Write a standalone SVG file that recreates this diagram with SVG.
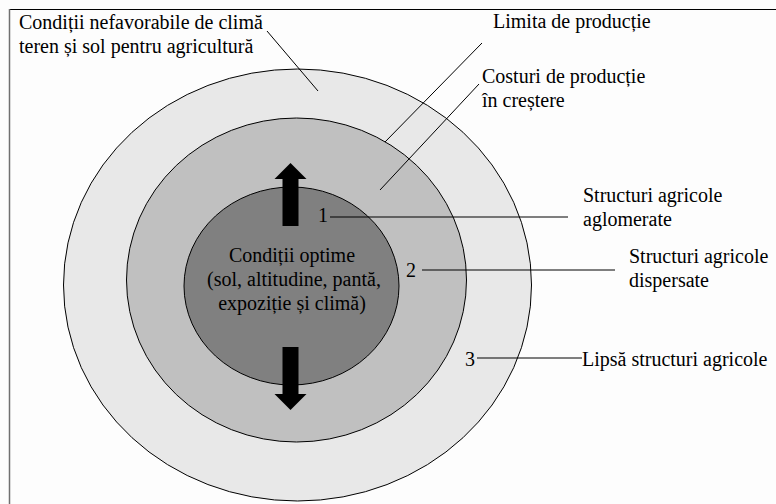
<svg xmlns="http://www.w3.org/2000/svg" width="776" height="504" viewBox="0 0 776 504">
  <style>
    text { font-family: 'Liberation Serif', Tinos, 'Times New Roman', 'DejaVu Serif', serif; font-size: 20px; fill: #000; }
    .mid { text-anchor: middle; }
    .ring { stroke: #000; stroke-width: 1; }
    .lead { stroke: #000; stroke-width: 1; fill: none; }
  </style>
  <defs>
    <!-- thick block arrow, drawn pointing up from the origin tip -->
    <path id="blockArrow" d="M0,0 L16,16 L8,16 L8,63 L-8,63 L-8,16 L-16,16 Z" fill="#000"/>
  </defs>

  <!-- page background and frame -->
  <rect x="0" y="0" width="776" height="504" fill="#fdfdfd"/>
  <line x1="9" y1="9.5" x2="776" y2="9.5" stroke="#000" stroke-width="1"/>
  <line x1="9.5" y1="9" x2="9.5" y2="504" stroke="#707070" stroke-width="1.5"/>

  <!-- concentric zones -->
  <g id="zone-outer">
    <ellipse class="ring" cx="297.5" cy="285" rx="234" ry="216" fill="#e8e8e8"/>
  </g>
  <g id="zone-middle">
    <ellipse class="ring" cx="296.5" cy="280" rx="170" ry="162" fill="#c0c0c0"/>
  </g>
  <g id="zone-inner">
    <ellipse class="ring" cx="291.5" cy="286" rx="107.5" ry="99" fill="#808080"/>
    <text class="mid" x="292" y="262" font-family="Liberation Serif">Condiții optime</text>
    <text class="mid" x="294" y="286" font-family="Liberation Serif">(sol, altitudine, pantă,</text>
    <text class="mid" x="292" y="310" font-family="Liberation Serif">expoziție și climă)</text>
  </g>

  <!-- expansion arrows -->
  <g id="arrows">
    <use href="#blockArrow" transform="translate(290.5,163)"/>
    <use href="#blockArrow" transform="translate(290.5,410) scale(1,-1)"/>
  </g>

  <!-- leader lines -->
  <g id="connectors">
    <line class="lead" x1="267" y1="31" x2="318" y2="91"/>
    <line class="lead" x1="482" y1="43" x2="385" y2="142"/>
    <line class="lead" x1="479" y1="84" x2="380" y2="190"/>
    <line class="lead" x1="330" y1="217" x2="568" y2="217"/>
    <line class="lead" x1="422" y1="270" x2="615" y2="270"/>
    <line class="lead" x1="477" y1="358" x2="582" y2="358"/>
  </g>

  <!-- labels -->
  <g id="label-unfavourable">
    <text x="19" y="29">Condiții nefavorabile de climă</text>
    <text x="19" y="53">teren și sol pentru agricultură</text>
  </g>
  <g id="label-limit">
    <text x="493" y="28">Limita de producție</text>
  </g>
  <g id="label-costs">
    <text x="482" y="83">Costuri de producție</text>
    <text x="482" y="107">în creștere</text>
  </g>
  <g id="label-1">
    <text x="318" y="222">1</text>
    <text x="583" y="202">Structuri agricole</text>
    <text x="583" y="226">aglomerate</text>
  </g>
  <g id="label-2">
    <text x="406" y="277">2</text>
    <text x="629" y="263">Structuri agricole</text>
    <text x="629" y="287">dispersate</text>
  </g>
  <g id="label-3">
    <text x="465" y="366">3</text>
    <text x="582" y="366">Lipsă structuri agricole</text>
  </g>
</svg>
